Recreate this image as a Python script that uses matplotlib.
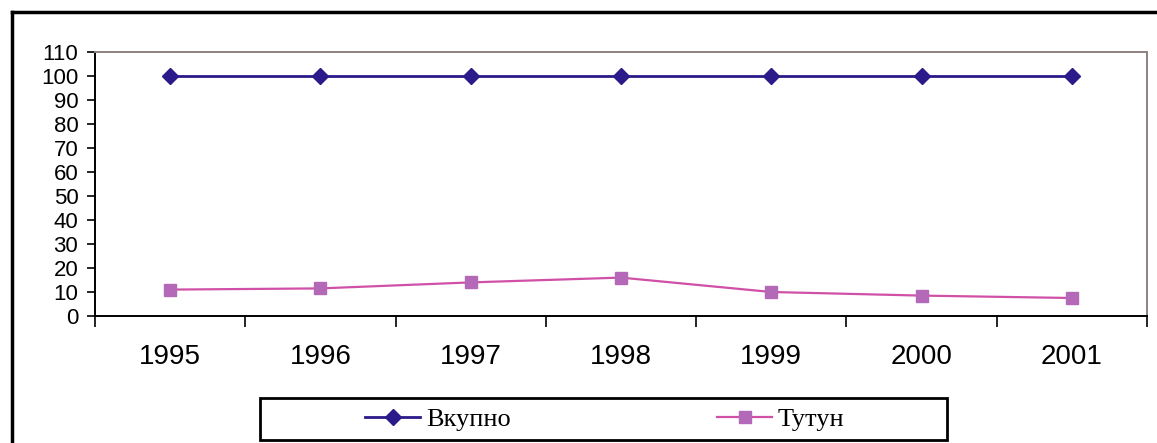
import matplotlib.pyplot as plt
from matplotlib.lines import Line2D
from matplotlib.patches import Rectangle

# податоци
years = ['1995', '1996', '1997', '1998', '1999', '2000', '2001']
vkupno = [100, 100, 100, 100, 100, 100, 100]
tutun = [11, 11.5, 14, 16, 10, 8.5, 7.5]
y_ticks = list(range(0, 111, 10))

W, H = 1157, 443
fig = plt.figure(figsize=(W / 100, H / 100), dpi=100)
fig.patch.set_facecolor('white')

# plot area in pixel coords -> figure fractions
left, right, top, bottom = 95, 1147, 52, 316
ax = fig.add_axes([left / W, 1 - bottom / H, (right - left) / W, (bottom - top) / H])

x = list(range(len(years)))
ax.plot(x, vkupno, color='#2A1A8A', lw=2, marker='D', ms=8, label='Вкупно')
ax.plot(x, tutun, color='#D050A8', lw=1.6, marker='s', ms=9,
        markerfacecolor='#B468B8', markeredgecolor='#B468B8', label='Тутун')

ax.set_xlim(-0.5, len(years) - 0.5)
ax.set_ylim(0, 110)
ax.set_yticks(y_ticks)
ax.set_yticklabels([str(v) for v in y_ticks], fontfamily='Liberation Sans', fontsize=16)

# category labels centred, ticks at the boundaries
ax.set_xticks([i - 0.5 for i in range(len(years) + 1)])
ax.set_xticklabels([''] * (len(years) + 1))
ax.set_xticks(x, minor=True)
ax.set_xticklabels(years, minor=True, fontfamily='Liberation Sans', fontsize=20)
ax.tick_params(axis='x', which='minor', length=0, pad=20)
ax.tick_params(axis='x', which='major', direction='out', length=8, width=1.2)
ax.tick_params(axis='y', direction='out', length=6, width=1.2, pad=6)

for s in ['left', 'bottom']:
    ax.spines[s].set_color('black')
    ax.spines[s].set_linewidth(1.4)
for s in ['top', 'right']:
    ax.spines[s].set_color('#8C8080')
    ax.spines[s].set_linewidth(1.4)

# legend
leg = fig.legend(handles=ax.get_lines(), loc='center left',
                 bbox_to_anchor=(365 / W, 1 - 419 / H), ncol=2, frameon=False,
                 prop={'family': 'Liberation Serif', 'size': 19},
                 handlelength=2.1, handletextpad=0.22, columnspacing=7.8,
                 borderpad=0, borderaxespad=0)
fig.patches.append(Rectangle((260 / W, 1 - 440 / H), (947 - 260) / W, (440 - 398) / H,
                             transform=fig.transFigure, fill=False,
                             edgecolor='black', lw=2))

# outer frame (top and left edges visible)
fig.lines.append(Line2D([12 / W, 1], [1 - 12 / H, 1 - 12 / H], transform=fig.transFigure,
                        color='black', lw=2.5))
fig.lines.append(Line2D([12 / W, 12 / W], [0, 1 - 12 / H], transform=fig.transFigure,
                        color='black', lw=2.5))

fig.savefig('out.png', dpi=100)
